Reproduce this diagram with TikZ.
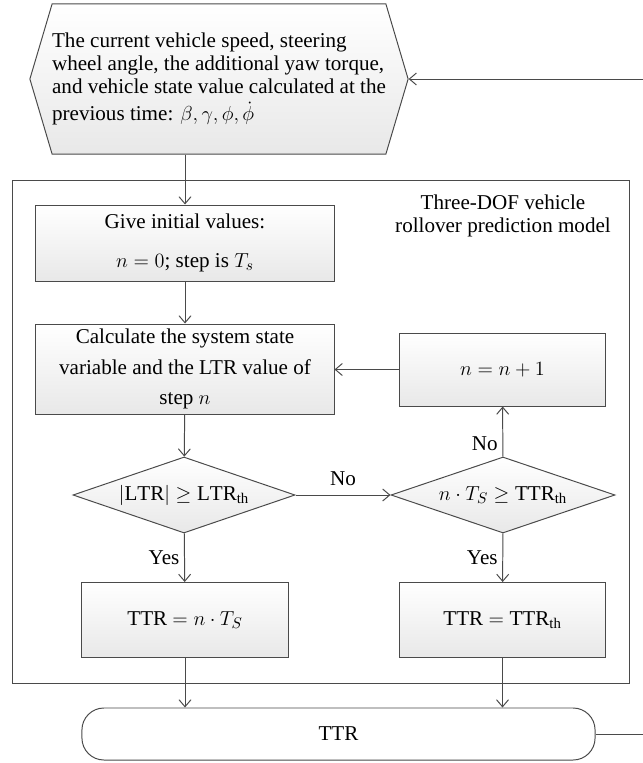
\documentclass[tikz,border=0pt]{standalone}
\usepackage{fontspec}
\setmainfont{Liberation Serif}
\usetikzlibrary{shapes.geometric,shapes.symbols,arrows.meta}

\definecolor{linegray}{HTML}{4A4A4A}

\tikzset{
  flow/.style={draw=linegray, line width=0.7pt, -{Straight Barb[length=5pt,width=8.5pt]}},
  procbox/.style={draw=linegray, line width=0.7pt, top color=white, bottom color=black!9,
    align=center, inner sep=2pt},
  hexbox/.style={procbox, signal, signal to=west and east, signal pointer angle=147,
    align=left, inner xsep=0pt, minimum width=9.325cm, minimum height=3.75cm},
  testbox/.style={draw=linegray, line width=0.7pt, top color=white, bottom color=black!9,
    diamond, aspect=2.9, align=center, inner sep=1pt, minimum width=5.55cm, minimum height=1.9cm},
  endbox/.style={draw=linegray, line width=0.7pt, fill=white, rounded corners=0.55cm,
    minimum width=12.825cm, minimum height=1.3cm}
}

\begin{document}
\begin{tikzpicture}[x=0.025cm, y=-0.025cm, font=\fontsize{15}{16.5}\selectfont]
  \useasboundingbox (0,0) rectangle (643,763);
  \clip (0,0) rectangle (643,763);

  % frame of the prediction model
  \draw[linegray, line width=0.7pt] (12,180) rectangle (629,683);
  \node (model) [align=center, font=\fontsize{15}{16}\selectfont] at (503,216)
    {Three-DOF vehicle\\rollover prediction model};

  % input values
  \node (input) [hexbox] at (219,79)
    {The current vehicle speed, steering\\wheel angle, the additional yaw torque,\\and vehicle state value calculated at the\\[3pt]previous time: $\beta, \gamma, \phi, \dot{\phi}$};

  % left column
  \node (give) [procbox, minimum width=7.45cm, minimum height=1.9cm] at (185,243)
    {Give initial values:\\[11pt]$n = 0$; step is $T_s$};
  \node (calc) [procbox, minimum width=7.45cm, minimum height=2.25cm] at (185,369)
    {Calculate the system state\\[5pt]variable and the LTR value of\\[5pt]step $n$};
  \node (check1) [testbox] at (184,495) {$|\mathrm{LTR}| \geq \mathrm{LTR}_{\mathrm{th}}$};
  \node (ttr1) [procbox, minimum width=5.15cm, minimum height=1.875cm] at (185,620)
    {TTR $= n \cdot T_S$};

  % right column
  \node (incr) [procbox, minimum width=5.125cm, minimum height=1.825cm] at (502.5,369.5)
    {$n = n + 1$};
  \node (check2) [testbox, minimum width=5.6cm] at (503,495)
    {$n \cdot T_S \geq \mathrm{TTR}_{\mathrm{th}}$};
  \node (ttr2) [procbox, minimum width=5.125cm, minimum height=1.875cm] at (502.5,620)
    {TTR $= \mathrm{TTR}_{\mathrm{th}}$};

  % output
  \node (term) [endbox] at (338.5,734) {TTR};

  % connectors
  \draw[flow] (give.north |- input.south) -- (give.north);
  \draw[flow] (give) -- (calc);
  \draw[flow] (calc) -- (check1);
  \draw[flow] (check1) -- node (no1) [above=3pt] {No} (check2);
  \draw[flow] (check2) -- node (no2) [left, pos=0.25] {No} (incr);
  \draw[flow] (incr.west) -- (incr.west -| calc.east);
  \draw[flow] (check1) -- node (yes1) [left] {Yes} (ttr1);
  \draw[flow] (check2) -- node (yes2) [left] {Yes} (ttr2);
  \draw[flow] (ttr1) -- (ttr1 |- term.north);
  \draw[flow] (ttr2) -- (ttr2 |- term.north);

  % feedback to the next time step
  \draw[flow] (term.east) -- ++(80,0) |- (input.east);
\end{tikzpicture}
\end{document}
